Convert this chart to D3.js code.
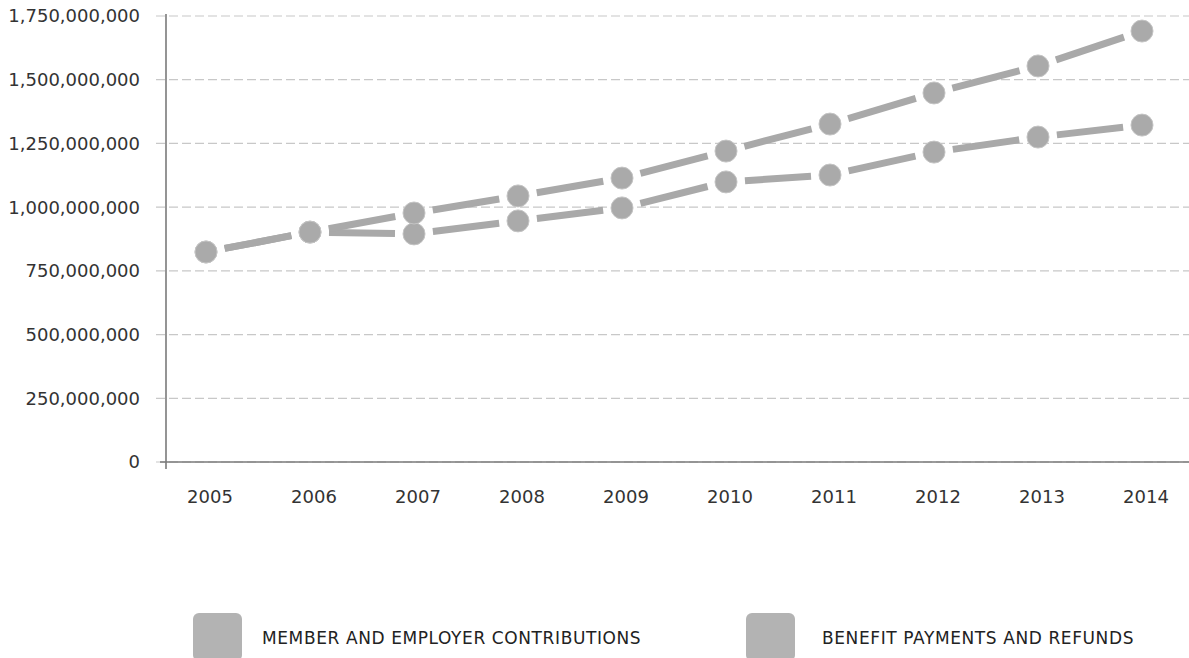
<!DOCTYPE html>
<html>
<head>
<meta charset="utf-8">
<script src="https://cdn.jsdelivr.net/npm/d3@7"></script>
<style>
  html, body { margin: 0; padding: 0; background: #fff; }
  svg { display: block; font-family: "DejaVu Sans", Verdana, sans-serif; }
</style>
</head>
<body>
<svg id="chart" width="1189" height="658"></svg>
<script>
// Fiscal years on the x axis
const years = ["2005", "2006", "2007", "2008", "2009", "2010", "2011", "2012", "2013", "2014"];

// Member and employer contributions (dollars)
const contributions = [824e6, 902e6, 895e6, 946e6, 997e6, 1099e6, 1126e6, 1216e6, 1275e6, 1322e6];

// Benefit payments and refunds (dollars)
const benefits = [824e6, 902e6, 977e6, 1044e6, 1114e6, 1220e6, 1326e6, 1448e6, 1554e6, 1691e6];

// Y axis ticks
const yTicks = [0, 250e6, 500e6, 750e6, 1000e6, 1250e6, 1500e6, 1750e6];

const seriesNames = ["MEMBER AND EMPLOYER CONTRIBUTIONS", "BENEFIT PAYMENTS AND REFUNDS"];

const svg = d3.select("#chart");
const lineColor = "#a9a9a9";
const markerColor = "#aaaaaa";

const x = d3.scalePoint().domain(years).range([206, 1142]);
const y = d3.scaleLinear().domain([0, 1750e6]).range([462, 16]);

// Dashed gridlines
svg.append("g")
  .selectAll("line")
  .data(yTicks)
  .join("line")
  .attr("x1", 156).attr("x2", 1189)
  .attr("y1", d => y(d)).attr("y2", d => y(d))
  .attr("stroke", "#c8c8c8")
  .attr("stroke-width", 1.2)
  .attr("stroke-dasharray", "9,4");

// Y axis labels
const fmt = d3.format(",");
svg.append("g")
  .selectAll("text")
  .data(yTicks)
  .join("text")
  .attr("x", 140)
  .attr("y", d => y(d))
  .attr("dy", "0.36em")
  .attr("text-anchor", "end")
  .attr("font-size", 18)
  .attr("fill", "#333")
  .text(d => fmt(d));

// Axis lines
svg.append("line")
  .attr("x1", 166).attr("x2", 166)
  .attr("y1", 14).attr("y2", 469)
  .attr("stroke", "#7a7a7a").attr("stroke-width", 1.6);
svg.append("line")
  .attr("x1", 160).attr("x2", 1189)
  .attr("y1", y(0)).attr("y2", y(0))
  .attr("stroke", "#7a7a7a").attr("stroke-width", 1.6);

// X axis labels
svg.append("g")
  .selectAll("text")
  .data(years)
  .join("text")
  .attr("x", d => x(d) + 4)
  .attr("y", 497)
  .attr("dy", "0.36em")
  .attr("text-anchor", "middle")
  .attr("font-size", 18)
  .attr("fill", "#333")
  .text(d => d);

// Lines drawn as separate segments that stop short of each marker
const gap = 19;
function drawSeries(values) {
  const pts = values.map((v, i) => [x(years[i]), y(v)]);
  const segs = d3.pairs(pts);
  const g = svg.append("g");
  g.selectAll("line")
    .data(segs)
    .join("line")
    .each(function ([a, b]) {
      const dx = b[0] - a[0], dy = b[1] - a[1];
      const len = Math.hypot(dx, dy);
      const ux = dx / len, uy = dy / len;
      d3.select(this)
        .attr("x1", a[0] + ux * gap).attr("y1", a[1] + uy * gap)
        .attr("x2", b[0] - ux * gap).attr("y2", b[1] - uy * gap);
    })
    .attr("stroke", lineColor)
    .attr("stroke-width", 7);
  return pts;
}

const ptsC = drawSeries(contributions);
const ptsB = drawSeries(benefits);

// Markers
[ptsC, ptsB].forEach(pts => {
  svg.append("g")
    .selectAll("circle")
    .data(pts)
    .join("circle")
    .attr("cx", d => d[0])
    .attr("cy", d => d[1])
    .attr("r", 11)
    .attr("fill", markerColor)
    .attr("stroke", "#c4c4c4")
    .attr("stroke-width", 1);
});

// Legend
const legendX = [193, 746];
const legend = svg.append("g")
  .selectAll("g")
  .data(seriesNames)
  .join("g")
  .attr("transform", (d, i) => `translate(${legendX[i]},613)`);
legend.append("rect")
  .attr("width", 49).attr("height", 48)
  .attr("rx", 6)
  .attr("fill", "#b3b3b3");
legend.append("text")
  .attr("x", (d, i) => i === 0 ? 69 : 76)
  .attr("y", 25)
  .attr("dy", "0.36em")
  .attr("font-size", 17)
  .attr("letter-spacing", 0.6)
  .attr("fill", "#222")
  .text(d => d);
</script>
</body>
</html>
